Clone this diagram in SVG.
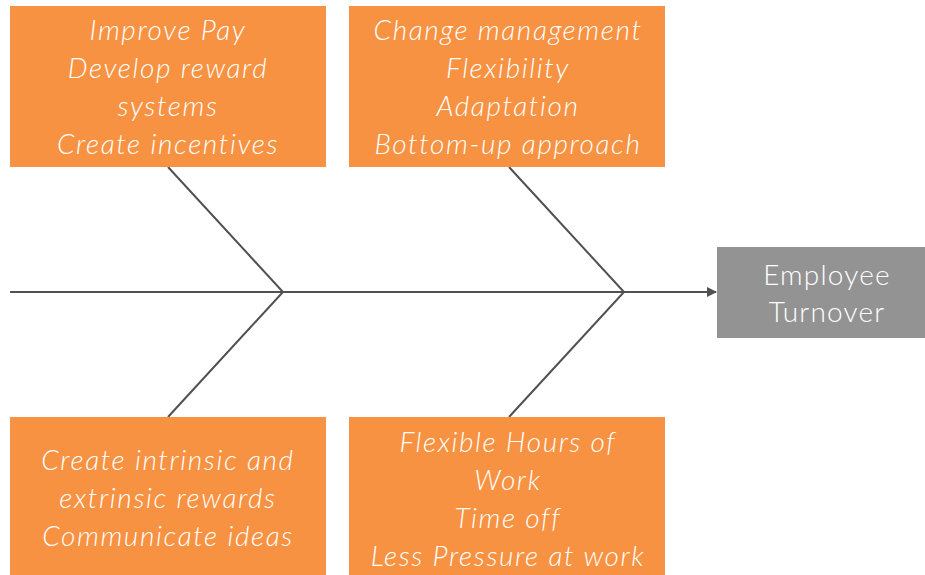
<svg xmlns="http://www.w3.org/2000/svg" width="925" height="575" viewBox="0 0 925 575">
<defs>
<style>
.box{fill:#F79242;}
.eff{fill:#939393;}
.t{font-family:Lato,"Open Sans","Liberation Sans",sans-serif;font-style:italic;font-weight:300;font-size:28px;letter-spacing:1.6px;fill:#ffffff;text-anchor:middle;}
.te{font-family:Lato,"Open Sans","Liberation Sans",sans-serif;font-weight:300;font-size:28px;letter-spacing:1.2px;fill:#ffffff;text-anchor:middle;}
.ln{stroke:#505055;stroke-width:2;fill:none;}
</style>
<marker id="arr" markerWidth="10" markerHeight="10" refX="9" refY="5" orient="auto" markerUnits="userSpaceOnUse">
<path d="M0,0 L10,5 L0,10 z" fill="#505055"/>
</marker>
</defs>
<rect width="925" height="575" fill="#ffffff"/>
<g id="connectors">
<line class="ln" x1="10" y1="292" x2="716" y2="292" marker-end="url(#arr)"/>
<polyline class="ln" points="168,167 283,292 168,417"/>
<polyline class="ln" points="509,167 624,292 509,417"/>
</g>
<g id="cause1">
<rect class="box" x="10" y="6" width="316" height="161"/>
<text class="t" x="168" y="40">Improve Pay</text>
<text class="t" x="168" y="78">Develop reward</text>
<text class="t" x="168" y="116">systems</text>
<text class="t" x="168" y="154">Create incentives</text>
</g>
<g id="cause2">
<rect class="box" x="349" y="6" width="316" height="161"/>
<text class="t" x="508" y="40">Change management</text>
<text class="t" x="508" y="78">Flexibility</text>
<text class="t" x="508" y="116">Adaptation</text>
<text class="t" x="508" y="154">Bottom-up approach</text>
</g>
<g id="cause3">
<rect class="box" x="10" y="417" width="316" height="158"/>
<text class="t" x="168" y="470">Create intrinsic and</text>
<text class="t" x="168" y="508">extrinsic rewards</text>
<text class="t" x="168" y="546">Communicate ideas</text>
</g>
<g id="cause4">
<rect class="box" x="349" y="417" width="316" height="158"/>
<text class="t" x="508" y="452">Flexible Hours of</text>
<text class="t" x="508" y="490">Work</text>
<text class="t" x="508" y="528">Time off</text>
<text class="t" x="508" y="566">Less Pressure at work</text>
</g>
<g id="effect">
<rect class="eff" x="717" y="247" width="208" height="91"/>
<text class="te" x="827" y="285">Employee</text>
<text class="te" x="827" y="322">Turnover</text>
</g>
</svg>
